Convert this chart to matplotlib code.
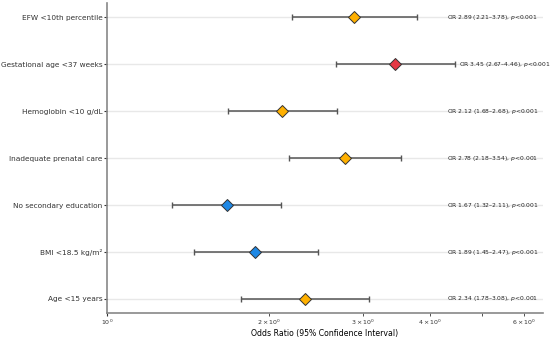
import numpy as np
import matplotlib
matplotlib.use("Agg")
import matplotlib.pyplot as plt

# forest plot data (top to bottom)
factors = ["EFW <10th percentile", "Gestational age <37 weeks", "Hemoglobin <10 g/dL",
           "Inadequate prenatal care", "No secondary education", "BMI <18.5 kg/m²",
           "Age <15 years"]
odds = [2.89, 3.45, 2.12, 2.78, 1.67, 1.89, 2.34]
ci_low = [2.21, 2.67, 1.68, 2.18, 1.32, 1.45, 1.78]
ci_high = [3.78, 4.46, 2.68, 3.54, 2.11, 2.47, 3.08]
pvals = ["<0.001"] * 7


def pick_color(v):
    if v < 2:
        return "#1E88E5"
    elif v > 3:
        return "#E53945"
    return "#FFB000"


n = len(factors)
ypos = np.arange(n)[::-1]

fig = plt.figure(figsize=(5.5, 3.37), dpi=100)
ax = fig.add_axes([0.195, 0.071, 0.792, 0.92])

for y in ypos:
    ax.axhline(y, color="#e8e8e8", lw=1.0, zorder=0)

for i in range(n):
    y = ypos[i]
    ax.errorbar(odds[i], y, xerr=[[odds[i] - ci_low[i]], [ci_high[i] - odds[i]]],
                fmt="none", ecolor="#555555", elinewidth=1.1, capsize=2, capthick=1.0, zorder=2)
    ax.plot(odds[i], y, marker="D", ms=6, color=pick_color(odds[i]),
            mec="#333333", mew=0.7, zorder=3)
    tx = max(4.3, ci_high[i] * 1.015)
    ax.text(tx, y, f"OR {odds[i]:.2f} ({ci_low[i]:.2f}–{ci_high[i]:.2f}), $p${pvals[i]}",
            va="center", ha="left", fontsize=4.3, color="#222222")

ax.set_xscale("log")
ax.set_xlim(1, 6.5)
ax.set_ylim(-0.3, n - 1 + 0.3)
ax.set_yticks(ypos)
ax.set_yticklabels(factors, fontsize=5.3)
ax.tick_params(axis="x", which="both", labelsize=4.5, colors="#333333", length=2, pad=1.5)
ax.tick_params(axis="y", length=2, pad=1.5, colors="#333333")
ax.set_xlabel("Odds Ratio (95% Confidence Interval)", fontsize=5.6, labelpad=1)

for s in ["top", "right"]:
    ax.spines[s].set_visible(False)
for s in ["left", "bottom"]:
    ax.spines[s].set_color("#888888")
    ax.spines[s].set_linewidth(1.2)

fig.savefig("out.png", dpi=100)
